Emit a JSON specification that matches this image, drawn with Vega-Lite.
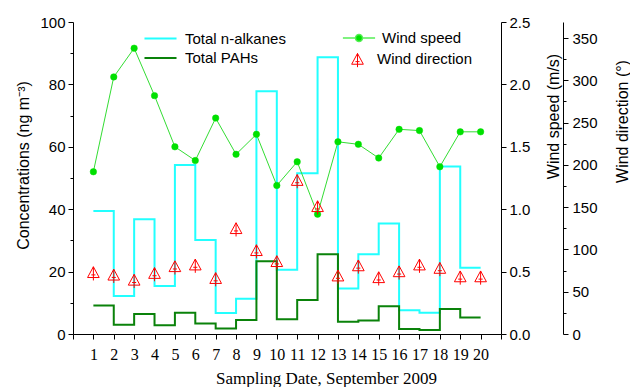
{
  "$schema": "https://vega.github.io/schema/vega-lite/v6.json",
  "width": 428,
  "height": 312,
  "autosize": {"type": "none"},
  "padding": {"left": 73, "top": 22, "right": 129, "bottom": 53},
  "background": "white",
  "config": {
    "view": {"stroke": null},
    "axis": {
      "grid": false,
      "domainColor": "black",
      "tickColor": "black",
      "labelColor": "black",
      "titleColor": "black",
      "domainWidth": 1,
      "tickWidth": 1,
      "labelFont": "Liberation Sans",
      "labelFontSize": 15,
      "titleFont": "Liberation Sans",
      "titleFontSize": 16,
      "titleFontWeight": "normal",
      "labelOverlap": false,
      "labelFlush": false,
      "labelBound": false
    },
    "legend": {
      "labelFont": "Liberation Sans",
      "labelFontSize": 15,
      "labelColor": "black",
      "padding": 0,
      "title": null
    }
  },
  "data": {
    "values": [
      {"day": 1, "alk": 39.4, "pah": 9.1, "ws": 1.30, "wd": 73},
      {"day": 2, "alk": 12.2, "pah": 3.0, "ws": 2.06, "wd": 70},
      {"day": 3, "alk": 36.8, "pah": 6.4, "ws": 2.29, "wd": 64},
      {"day": 4, "alk": 15.4, "pah": 2.8, "ws": 1.91, "wd": 72},
      {"day": 5, "alk": 54.2, "pah": 6.8, "ws": 1.50, "wd": 80},
      {"day": 6, "alk": 30.1, "pah": 3.4, "ws": 1.39, "wd": 82},
      {"day": 7, "alk": 6.7, "pah": 1.8, "ws": 1.73, "wd": 66},
      {"day": 8, "alk": 11.3, "pah": 4.5, "ws": 1.44, "wd": 125},
      {"day": 9, "alk": 77.8, "pah": 23.3, "ws": 1.60, "wd": 99},
      {"day": 10, "alk": 20.6, "pah": 4.7, "ws": 1.19, "wd": 86},
      {"day": 11, "alk": 51.5, "pah": 10.9, "ws": 1.38, "wd": 182},
      {"day": 12, "alk": 88.7, "pah": 25.6, "ws": 0.96, "wd": 151},
      {"day": 13, "alk": 14.6, "pah": 3.9, "ws": 1.54, "wd": 69},
      {"day": 14, "alk": 25.6, "pah": 4.3, "ws": 1.52, "wd": 81},
      {"day": 15, "alk": 35.4, "pah": 8.9, "ws": 1.41, "wd": 67},
      {"day": 16, "alk": 7.6, "pah": 1.6, "ws": 1.64, "wd": 74},
      {"day": 17, "alk": 6.8, "pah": 1.3, "ws": 1.63, "wd": 82},
      {"day": 18, "alk": 53.7, "pah": 8.0, "ws": 1.34, "wd": 78},
      {"day": 19, "alk": 21.2, "pah": 5.3, "ws": 1.62, "wd": 68},
      {"day": 20, "alk": 21.2, "pah": 5.3, "ws": 1.62, "wd": 68}
    ]
  },
  "encoding": {
    "x": {
      "field": "day",
      "type": "quantitative",
      "scale": {"domain": [0, 21], "nice": false, "zero": false},
      "axis": {
        "values": [0,1,2,3,4,5,6,7,8,9,10,11,12,13,14,15,16,17,18,19,20,21],
        "labelExpr": "datum.value >= 1 && datum.value <= 20 ? datum.value : ''",
        "tickSize": 5,
        "labelPadding": 7,
        "labelBaseline": "top",
        "labelFont": "Liberation Serif",
        "labelFontSize": 16,
        "title": "Sampling Date, September 2009",
        "titleFont": "Liberation Serif",
        "titleFontSize": 17,
        "titleX": 253,
        "titleY": 49,
        "titleAlign": "center",
        "titleBaseline": "alphabetic"
      }
    }
  },
  "layer": [
    {
      "layer": [
        {
          "mark": {"type": "line", "interpolate": "step-after", "strokeWidth": 2},
          "encoding": {
            "y": {
              "field": "alk",
              "type": "quantitative",
              "scale": {"domain": [0, 100], "nice": false},
              "axis": {
                "orient": "left",
                "values": [0,10,20,30,40,50,60,70,80,90,100],
                "labelExpr": "datum.value % 20 === 0 ? datum.value : ''",
                "tickSize": {"condition": {"test": "datum.value % 20 === 0", "value": 5}, "value": 3},
                "labelPadding": 3,
                "title": "Concentrations (ng m⁻³)",
                "titleAngle": 270,
                "titleX": -50,
                "titleY": 143,
                "titleAlign": "center",
                "titleBaseline": "middle"
              }
            },
            "stroke": {
              "datum": "Total n-alkanes",
              "type": "nominal",
              "scale": {"domain": ["Total n-alkanes", "Total PAHs"], "range": ["#22ffff", "#0a820a"]},
              "legend": {
                "orient": "none",
                "legendX": 80,
                "legendY": 9,
                "direction": "vertical",
                "symbolType": "M-3,0L3,0",
                "symbolSize": 114,
                "symbolStrokeWidth": 2,
                "symbolOffset": 0,
                "labelOffset": 17,
                "rowPadding": 3.4
              }
            }
          }
        },
        {
          "mark": {"type": "line", "interpolate": "step-after", "strokeWidth": 2},
          "encoding": {
            "y": {
              "field": "pah",
              "type": "quantitative",
              "scale": {"domain": [0, 100], "nice": false},
              "axis": {
                "orient": "left",
                "values": [0,10,20,30,40,50,60,70,80,90,100],
                "labelExpr": "datum.value % 20 === 0 ? datum.value : ''",
                "tickSize": {"condition": {"test": "datum.value % 20 === 0", "value": 5}, "value": 3},
                "labelPadding": 3,
                "title": "Concentrations (ng m⁻³)",
                "titleAngle": 270,
                "titleX": -50,
                "titleY": 143,
                "titleAlign": "center",
                "titleBaseline": "middle"
              }
            },
            "stroke": {"datum": "Total PAHs", "type": "nominal"}
          }
        }
      ]
    },
    {
      "layer": [
        {
          "mark": {"type": "line", "color": "#33dd33", "strokeWidth": 1},
          "encoding": {
            "y": {
              "field": "ws",
              "type": "quantitative",
              "scale": {"domain": [0, 2.5], "nice": false},
              "axis": {
                "orient": "right",
                "values": [0,0.25,0.5,0.75,1,1.25,1.5,1.75,2,2.25,2.5],
                "labelExpr": "(datum.value * 2) % 1 === 0 ? format(datum.value, '.1f') : ''",
                "tickSize": {"condition": {"test": "(datum.value * 2) % 1 === 0", "value": 5}, "value": 3},
                "labelPadding": 3,
                "title": "Wind speed (m/s)",
                "titleAngle": 270,
                "titleX": 52,
                "titleY": 94,
                "titleAlign": "center",
                "titleBaseline": "middle"
              }
            }
          }
        },
        {
          "mark": {"type": "point", "shape": "circle", "filled": true, "size": 42, "stroke": "#00e000", "strokeWidth": 0.5, "opacity": 1},
          "encoding": {
            "y": {"field": "ws", "type": "quantitative", "scale": {"domain": [0, 2.5], "nice": false}},
            "fill": {
              "datum": "Wind speed",
              "type": "nominal",
              "scale": {"domain": ["Wind speed"], "range": ["#00e000"]},
              "legend": {
                "orient": "none",
                "legendX": 278,
                "legendY": 8,
                "symbolType": "M-2.3,0L-0.5,0M0.5,0L2.3,0M0.5,0A0.5,0.5,0,1,1,-0.5,0A0.5,0.5,0,1,1,0.5,0Z",
                "symbolSize": 196,
                "symbolStrokeColor": "#55ee55",
                "symbolStrokeWidth": 1.5,
                "symbolOffset": 0,
                "labelOffset": 15
              }
            }
          }
        }
      ]
    },
    {
      "mark": {"type": "point", "filled": false, "size": 136, "stroke": "#ff0000", "strokeWidth": 1, "opacity": 1},
      "encoding": {
        "y": {
          "field": "wd",
          "type": "quantitative",
          "scale": {"domain": [0, 369], "nice": false},
          "axis": {
            "orient": "right",
            "offset": 62,
            "values": [0,25,50,75,100,125,150,175,200,225,250,275,300,325,350],
            "labelExpr": "datum.value % 50 === 0 ? datum.value : ''",
            "tickSize": {"condition": {"test": "datum.value % 50 === 0", "value": 5}, "value": 3},
            "labelPadding": 4,
            "title": "Wind direction (°)",
            "titleAngle": 270,
            "titleX": 59,
            "titleY": 99,
            "titleAlign": "center",
            "titleBaseline": "middle"
          }
        },
        "shape": {
          "datum": "Wind direction",
          "type": "nominal",
          "scale": {"domain": ["Wind direction"], "range": ["M0,-0.95L1,0.9L-1,0.9Z M0,-0.95L0,1.4 M-0.35,0.45L0.35,0.45"]},
          "legend": {
            "orient": "none",
            "legendX": 277,
            "legendY": 29.5,
            "symbolSize": 136,
            "symbolFillColor": "transparent",
            "symbolStrokeColor": "#ff0000",
            "symbolStrokeWidth": 1,
            "symbolOffset": 0,
            "labelOffset": 12
          }
        }
      }
    }
  ],
  "resolve": {"scale": {"y": "independent"}}
}
